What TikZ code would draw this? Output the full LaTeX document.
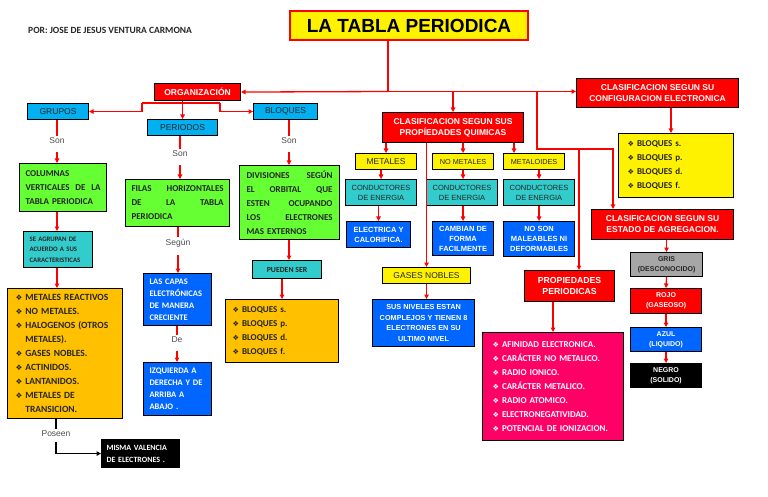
\documentclass[tikz,border=0pt]{standalone}
\usepackage{fontspec}
\setmainfont{Liberation Sans}
\newfontfamily\calfont{Carlito}
\newfontfamily\djfont{DejaVu Sans}[Scale=0.8]
\usetikzlibrary{arrows.meta}
\definecolor{cy}{HTML}{00B0F0}
\definecolor{gr}{HTML}{66FF33}
\definecolor{tq}{HTML}{33CCCC}
\definecolor{bl}{HTML}{0066FF}
\definecolor{orng}{HTML}{FFC000}
\definecolor{pk}{HTML}{FF0066}
\definecolor{gy}{HTML}{A6A6A6}
\definecolor{txt}{HTML}{262626}
\newcommand\dia{{\djfont ❖}\hspace{3pt}}
\newcommand\diaph{\phantom{\dia}}
\tikzset{
 bx/.style={draw=black, line width=1.1pt, anchor=north west, inner sep=0pt, align=center, text=white},
 hd/.style={bx, fill=red, font=\bfseries\fontsize{8.5}{11}\selectfont},
 cyb/.style={bx, fill=cy, text=txt, font=\fontsize{8.5}{10}\selectfont},
 yb/.style={bx, fill=yellow, text=txt, font=\fontsize{8.5}{10}\selectfont},
 tqb/.style={bx, fill=tq, text=txt, font=\fontsize{7.5}{10}\selectfont},
 blb/.style={bx, fill=bl, text=white, font=\bfseries\fontsize{7.5}{10}\selectfont},
 grb/.style={bx, fill=gr, text=txt, align=left, inner xsep=6pt, font=\calfont\bfseries\fontsize{9}{14}\selectfont},
 lblue/.style={bx, fill=bl, text=white, align=left, inner xsep=6pt, font=\calfont\bfseries\fontsize{8.5}{12}\selectfont},
 lst/.style={bx, align=left, font=\calfont\bfseries\fontsize{9}{14}\selectfont},
 stb/.style={bx, font=\bfseries\fontsize{7}{10}\selectfont},
 lbl/.style={font=\fontsize{8.5}{10}\selectfont, text=black!70, inner sep=2pt},
 rl/.style={draw=red, line width=1.3pt},
 arr/.style={rl, -{Triangle[length=4.5pt,width=4.5pt]}},
 arrs/.style={arr, shorten <=6pt},
}
\begin{document}
\begin{tikzpicture}[x=1pt,y=-1pt]
\useasboundingbox (0,0) rectangle (768,497);
% title and author
\node[font=\calfont\bfseries\fontsize{9.5}{11}\selectfont, anchor=west, inner sep=0pt, text=txt] (author) at (28,30) {POR: JOSE DE JESUS VENTURA CARMONA};
\node[bx, fill=yellow, draw=red, line width=2pt, text=black, minimum width=238pt, minimum height=29pt, font=\bfseries\fontsize{19}{22}\selectfont] (title) at (289,10) {LA TABLA PERIODICA};
% red headings
\node[hd, minimum width=86pt, minimum height=17pt] (orgz) at (154,83) {ORGANIZACIÓN};
\node[hd, minimum width=141pt, minimum height=30pt] (quim) at (382,112) {CLASIFICACION SEGUN SUS\\PROPÍEDADES QUIMICAS};
\node[hd, minimum width=162pt, minimum height=29pt] (config) at (576,78) {CLASIFICACION SEGUN SU\\CONFIGURACION ELECTRONICA};
\node[hd, minimum width=142pt, minimum height=30pt] (estado) at (591,209) {CLASIFICACION SEGUN SU\\ESTADO DE AGREGACION.};
\node[hd, minimum width=90pt, minimum height=31pt, font=\bfseries\fontsize{8.7}{11}\selectfont] (pper) at (524,270) {PROPIEDADES\\PERIODICAS};
% organizacion branch
\node[cyb, minimum width=61pt, minimum height=16pt] (grupos) at (27,103) {GRUPOS};
\node[cyb, minimum width=70pt, minimum height=16pt] (periodos) at (147,119) {PERIODOS};
\node[cyb, minimum width=64pt, minimum height=16pt] (bloq) at (253,103) {BLOQUES};
\node[lbl] (son1) at (57,141) {Son};
\node[lbl] (son2) at (180,154) {Son};
\node[lbl] (son3) at (289,141) {Son};
\node[grb, text width=75pt, minimum height=48pt] (columnas) at (19,163) {COLUMNAS\\VERTICALES\hfill DE\hfill LA\\TABLA PERIODICA};
\node[bx, fill=tq, text=txt, align=left, inner xsep=6pt, text width=57pt, minimum height=36pt, font=\calfont\bfseries\fontsize{6.8}{10.5}\selectfont] (seagr) at (23,231) {SE AGRUPAN DE\\ACUERDO A SUS\\CARACTERISTICAS};
\node[lst, fill=orng, text=txt, inner xsep=8pt, text width=99pt, minimum height=130pt, font=\calfont\bfseries\fontsize{9.5}{14}\selectfont] (olist) at (7,288) {\dia METALES REACTIVOS\\\dia NO METALES.\\\dia HALOGENOS (OTROS\\\diaph METALES).\\\dia GASES NOBLES.\\\dia ACTINIDOS.\\\dia LANTANIDOS.\\\dia METALES DE\\\diaph TRANSICION.};
\node[lbl] (poseen) at (56,434) {Poseen};
\node[bx, fill=black, align=left, inner xsep=5pt, text width=68pt, minimum height=28pt, font=\calfont\bfseries\fontsize{8}{12}\selectfont] (misma) at (101,439) {MISMA VALENCIA\\DE ELECTRONES .};
\node[grb, text width=92pt, minimum height=47pt] (filas) at (125,179) {FILAS\hfill HORIZONTALES\\DE\hfill LA\hfill TABLA\\PERIODICA};
\node[lbl] (segun) at (178,243) {Según};
\node[lblue, text width=56pt, minimum height=52pt] (capas) at (143,273) {LAS CAPAS\\ELECTRÓNICAS\\DE MANERA\\CRECIENTE};
\node[lbl] (de) at (177,340) {De};
\node[lblue, text width=56pt, minimum height=53pt] (izq) at (143,362) {IZQUIERDA A\\DERECHA Y DE\\ARRIBA A\\ABAJO .};
\node[grb, inner xsep=7pt, text width=86pt, minimum height=74pt] (divis) at (239,165) {DIVISIONES\hfill SEGÚN\\EL\hfill ORBITAL\hfill QUE\\ESTEN\hfill OCUPANDO\\LOS\hfill ELECTRONES\\MAS EXTERNOS};
\node[bx, fill=tq, text=txt, minimum width=69pt, minimum height=18pt, font=\calfont\bfseries\fontsize{7.8}{9}\selectfont] (pueden) at (252,260) {PUEDEN SER};
\node[lst, fill=orng, text=txt, inner xsep=7pt, text width=99pt, minimum height=63pt] (obloq) at (225,299) {\dia BLOQUES s.\\\dia BLOQUES p.\\\dia BLOQUES d.\\\dia BLOQUES f.};
% propiedades quimicas branch
\node[yb, minimum width=61pt, minimum height=16pt] (metales) at (355,153) {METALES};
\node[yb, minimum width=61pt, minimum height=16pt, font=\fontsize{7.3}{9}\selectfont] (nomet) at (432,153) {NO METALES};
\node[yb, minimum width=61pt, minimum height=16pt, font=\fontsize{7.3}{9}\selectfont] (metal) at (503,153) {METALOIDES};
\node[tqb, minimum width=71pt, minimum height=26pt] (cond1) at (345,179) {CONDUCTORES\\DE ENERGIA};
\node[tqb, minimum width=71pt, minimum height=26pt] (cond2) at (426,179) {CONDUCTORES\\DE ENERGIA};
\node[tqb, minimum width=71pt, minimum height=26pt] (cond3) at (503,179) {CONDUCTORES\\DE ENERGIA};
\node[blb, minimum width=64pt, minimum height=26pt] (elec) at (346,221) {ELECTRICA Y\\CALORIFICA.};
\node[blb, minimum width=61pt, minimum height=34pt] (camb) at (432,221) {CAMBIAN DE\\FORMA\\FACILMENTE};
\node[blb, minimum width=71pt, minimum height=35pt] (noson) at (503,221) {NO SON\\MALEABLES NI\\DEFORMABLES};
\node[yb, minimum width=88pt, minimum height=16pt] (gases) at (382,267) {GASES NOBLES};
\node[blb, minimum width=102pt, minimum height=47pt, font=\bfseries\fontsize{7.3}{10.5}\selectfont] (susniv) at (372,299) {SUS NIVELES ESTAN\\COMPLEJOS Y TIENEN 8\\ELECTRONES EN SU\\ULTIMO NIVEL};
% right side
\node[lst, fill=yellow, text=txt, inner xsep=9pt, text width=97pt, minimum height=64pt] (ybloq) at (618,133) {\dia BLOQUES s.\\\dia BLOQUES p.\\\dia BLOQUES d.\\\dia BLOQUES f.};
\node[stb, fill=gy, text=txt, minimum width=72pt, minimum height=24pt] (gris) at (630,252) {GRIS\\(DESCONOCIDO)};
\node[stb, fill=red, minimum width=71pt, minimum height=25pt] (rojo) at (630,288) {ROJO\\(GASEOSO)};
\node[stb, fill=bl, minimum width=71pt, minimum height=24pt] (azul) at (630,327) {AZUL\\(LIQUIDO)};
\node[stb, fill=black, minimum width=71pt, minimum height=24pt] (negro) at (630,363) {NEGRO\\(SOLIDO)};
\node[lst, fill=pk, text=white, inner xsep=10pt, text width=121pt, minimum height=108pt] (pink) at (482,332) {\dia AFINIDAD ELECTRONICA.\\\dia CARÁCTER NO METALICO.\\\dia RADIO IONICO.\\\dia CARÁCTER METALICO.\\\dia RADIO ATOMICO.\\\dia ELECTRONEGATIVIDAD.\\\dia POTENCIAL DE IONIZACION.};
% connectors from title
\coordinate (j0) at (388,91.5);
\coordinate (j1) at (537,91.5);
\coordinate (j2) at (537,149);
\coordinate (j3) at (613,149);
\coordinate (j4) at (579,149);
\draw[rl] (title.south -| j0) -- (j0);
\draw[arr] (j0) -- (orgz.east);
\draw[arr] (j0) -- (j0 -| config.west);
\draw[arr] (j0 -| quim.north) -- (quim.north);
\draw[arr] (j1) -- (j2) -- (j3) -- (j3 |- estado.north);
\draw[arr] (j4) -- (j4 |- pper.north);
% organizacion
\coordinate (k1) at (142,103);
\coordinate (k2) at (220,103);
\draw[arr] (orgz.south -| periodos.north) -- (periodos.north);
\draw[rl] (k1) -- (k2);
\draw[arr] (k1) -- (k1 |- grupos.east) -- (grupos.east);
\draw[arr] (k2) -- (k2 |- bloq.west) -- (bloq.west);
\draw[rl] (grupos.south -| son1) -- (son1.north);
\draw[arrs] (son1.south) -- (son1.south |- columnas.north);
\draw[arr] (columnas.south -| son1) -- (seagr.north -| son1);
\draw[arr] (seagr.south -| son1) -- (olist.north -| son1);
\draw[line width=1.3pt] (olist.south -| poseen) -- (poseen.north);
\draw[line width=1.3pt, -{Triangle[length=4.5pt,width=4.5pt]}, shorten <=3pt] (poseen.south) -- (poseen.south |- misma.west) -- (misma.west);
\draw[rl] (periodos.south -| son2) -- (son2.north);
\draw[arrs] (son2.south) -- (son2.south |- filas.north);
\draw[rl] (filas.south -| segun) -- (segun.north);
\draw[arrs] (segun.south) -- (segun.south |- capas.north);
\draw[rl] (capas.south -| de) -- (de.north);
\draw[arrs] (de.south) -- (de.south |- izq.north);
\draw[rl] (bloq.south -| son3) -- (son3.north);
\draw[arrs] (son3.south) -- (son3.south |- divis.north);
\draw[arr] (divis.south -| son3) -- (pueden.north -| son3);
\draw[arr] (pueden.south -| obloq.north) -- (obloq.north);
% propiedades quimicas
\draw[arr] (quim.south -| metales.north) -- (metales.north);
\draw[arr] (quim.south -| nomet.north) -- (nomet.north);
\draw[arr] (quim.south -| 514,0) -- (metal.north -| 514,0);
\draw[arr] (quim.south -| gases.north) -- (gases.north);
\draw[arr] (metales.south -| cond1.north) -- (cond1.north);
\draw[arr] (nomet.south) -- (nomet.south |- cond2.north);
\draw[arr] (metal.south -| cond3.north) -- (cond3.north);
\draw[arr] (cond1.south -| elec.north) -- (elec.north);
\draw[arr] (cond2.south -| camb.north) -- (camb.north);
\draw[arr] (cond3.south -| noson.north) -- (noson.north);
\draw[arr] (gases.south) -- (gases.south |- susniv.north);
% right side
\draw[arr] (config.south -| 671,0) -- (ybloq.north -| 671,0);
\draw[arr] (estado.south -| gris.north) -- (gris.north);
\draw[arr] (gris.south) -- (rojo.north);
\draw[arr] (rojo.south) -- (azul.north);
\draw[arr] (azul.south) -- (negro.north);
\draw[arr] (pper.south -| pink.north) -- (pink.north);
\end{tikzpicture}
\end{document}
